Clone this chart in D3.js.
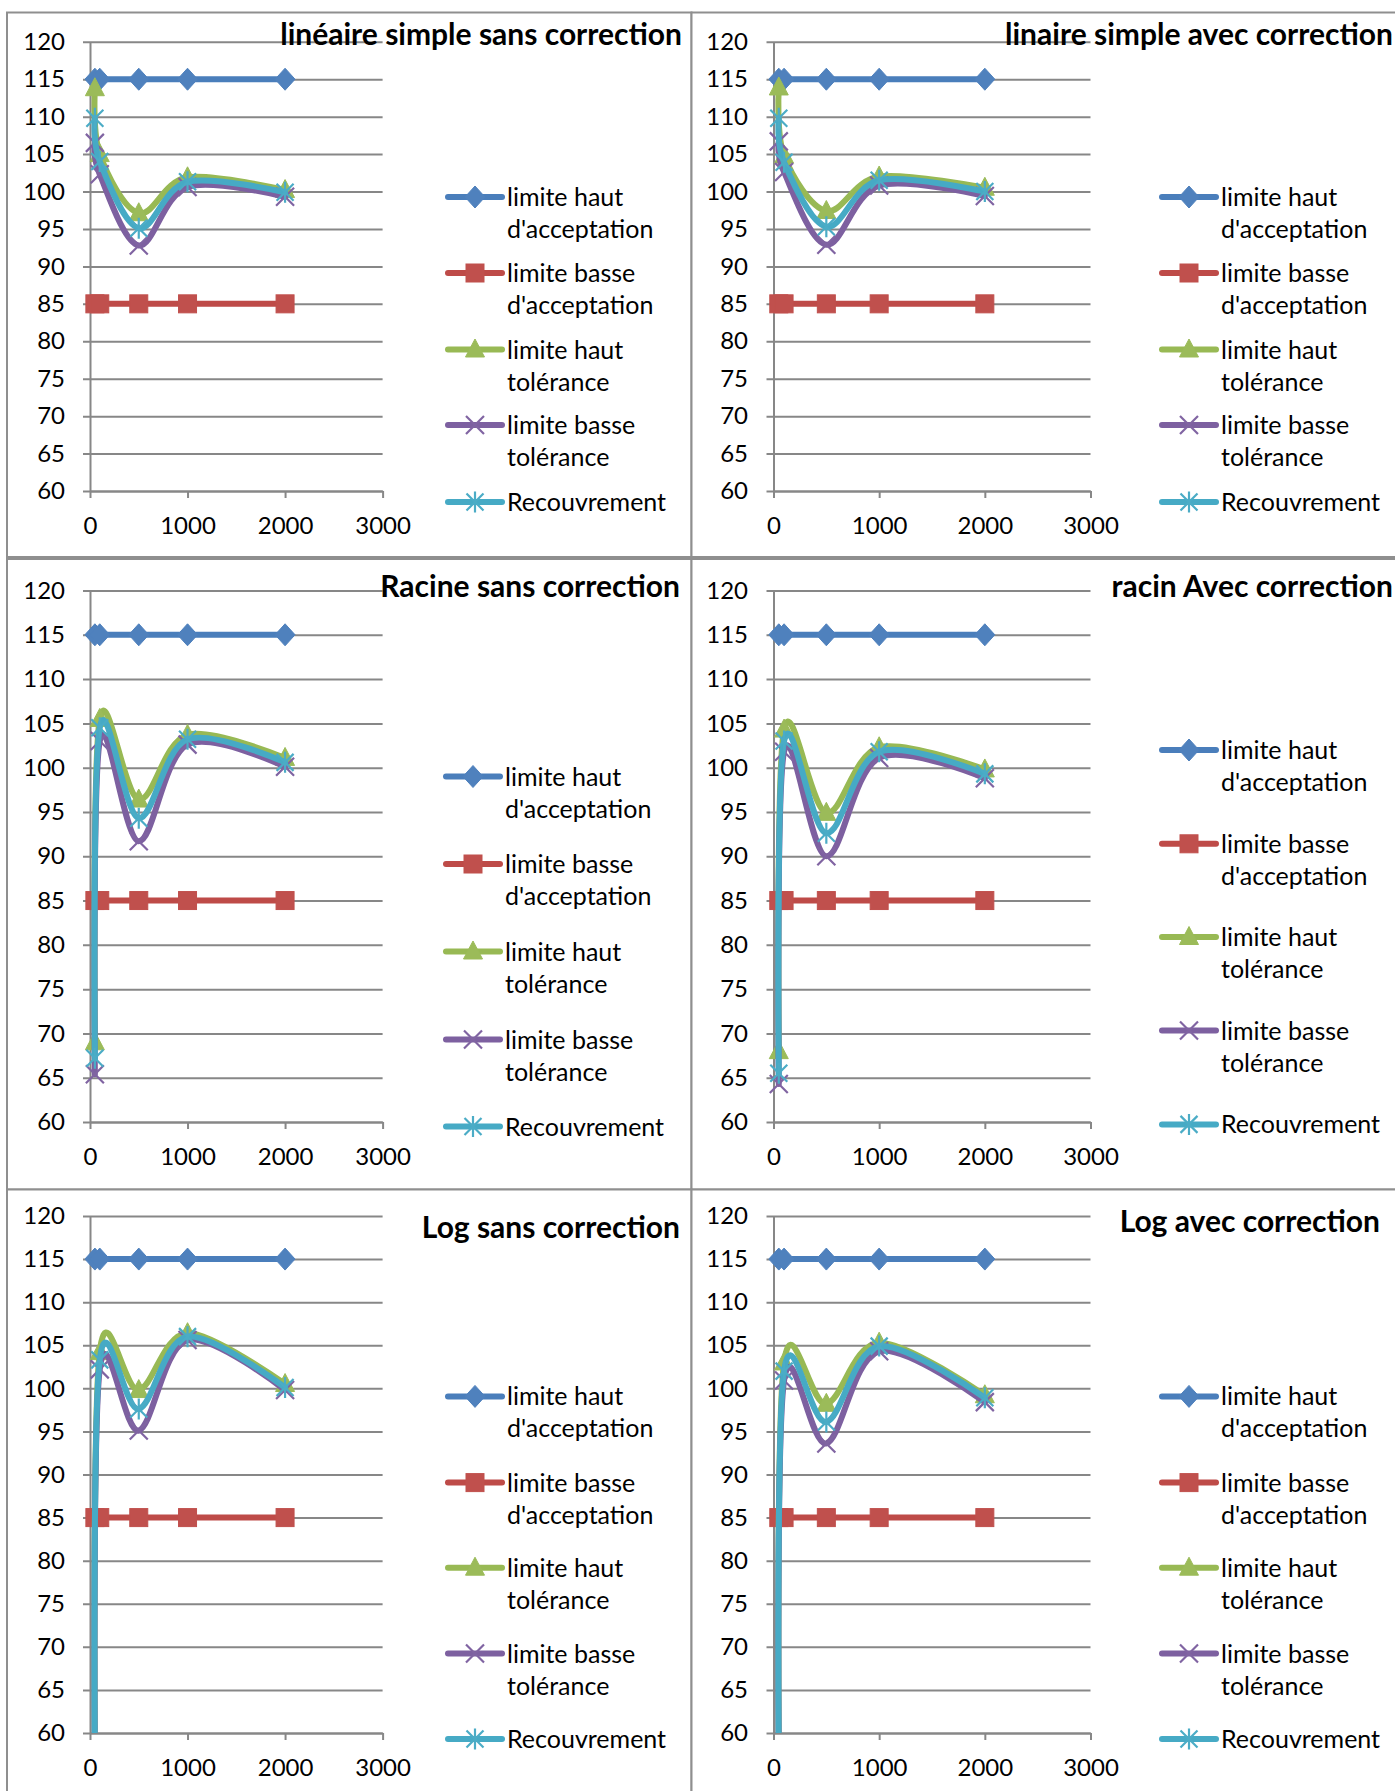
<!DOCTYPE html>
<html>
<head>
<meta charset="utf-8">
<script src="https://cdn.jsdelivr.net/npm/d3@7"></script>
<style>
  body { margin: 0; background: #fff; }
  svg { display: block; }
  text { font-family: Lato, "Open Sans", sans-serif; fill: #000; }
</style>
</head>
<body>
<svg id="chart" width="1395" height="1791"></svg>
<script>
// ---- data ----
const xValues = [50, 100, 500, 1000, 2000];
const yTickValues = [60, 65, 70, 75, 80, 85, 90, 95, 100, 105, 110, 115, 120];
const xTickValues = [0, 1000, 2000, 3000];

const seriesNames = [
  "limite haut d'acceptation",
  "limite basse d'acceptation",
  "limite haut tolérance",
  "limite basse tolérance",
  "Recouvrement"
];
const legendLabels = [
  ["limite haut", "d'acceptation"],
  ["limite basse", "d'acceptation"],
  ["limite haut", "tolérance"],
  ["limite basse", "tolérance"],
  ["Recouvrement"]
];
const panelTitles = [
  "linéaire simple sans correction",
  "linaire simple avec correction",
  "Racine sans correction",
  "racin Avec correction",
  "Log sans correction",
  "Log avec correction"
];

const limiteHautAcceptation  = [115, 115, 115, 115, 115];
const limiteBasseAcceptation = [85, 85, 85, 85, 85];

// linéaire simple sans correction
const linSansHaut   = [113.8, 105.0, 97.1, 101.9, 100.2];
const linSansBasse  = [106.5, 102.3, 92.8, 100.6, 99.3];
const linSansRecouv = [109.8, 104.0, 95.1, 101.3, 99.9];
// linaire simple avec correction
const linAvecHaut   = [113.9, 104.8, 97.4, 102.0, 100.5];
const linAvecBasse  = [106.7, 102.6, 92.9, 100.8, 99.4];
const linAvecRecouv = [109.8, 103.9, 95.3, 101.5, 100.0];
// Racine sans correction
const racSansHaut   = [69.0, 105.5, 96.4, 103.7, 101.1];
const racSansBasse  = [65.4, 103.0, 91.7, 102.6, 100.1];
const racSansRecouv = [67.2, 104.5, 94.3, 103.2, 100.6];
// racin Avec correction
const racAvecHaut   = [68.0, 104.3, 94.9, 102.3, 99.8];
const racAvecBasse  = [64.3, 101.8, 90.0, 101.1, 98.8];
const racAvecRecouv = [65.5, 103.0, 92.6, 101.8, 99.3];
// Log sans correction
const logSansHaut   = [57, 104.2, 99.8, 106.4, 100.5];
const logSansBasse  = [55, 102.2, 95.1, 105.6, 99.8];
const logSansRecouv = [56, 103.3, 97.6, 106.0, 100.1];
// Log avec correction
const logAvecHaut   = [58, 103.0, 98.2, 105.3, 99.2];
const logAvecBasse  = [56, 100.9, 93.6, 104.3, 98.4];
const logAvecRecouv = [57, 102.0, 96.1, 104.9, 98.9];

// ---- styling ----
const lineColors   = ["#4A7EBB", "#BE4B48", "#98B954", "#7D60A0", "#46AAC5"];
const markerColors = ["#4F81BD", "#C0504D", "#9BBB59", "#8064A2", "#4BACC6"];
const markerKinds  = ["diamond", "square", "triangle", "cross", "star"];
const gridColor = "#878787";
const borderColor = "#8f8f8f";
const seriesWidth = 6;

// panel layout (pixel geometry)
const layouts = [
  { box: [7, 12.5, 691.5, 557],  x0: 90,  x1: 382.6, yTop: 41.8,  yBot: 491,
    labelRight: 65,  titleX: 682,  titleY: 45,
    lgX0: 448, lgX1: 502, lgText: 507, lgY: [197, 273, 349.5, 425, 502] },
  { box: [691.5, 12.5, 1420, 557], x0: 773.5, x1: 1090.5, yTop: 41.8, yBot: 491,
    labelRight: 748, titleX: 1393, titleY: 45,
    lgX0: 1162, lgX1: 1216, lgText: 1221, lgY: [197, 273, 349.5, 425, 502] },
  { box: [7, 559, 691.5, 1189.5], x0: 90, x1: 382.6, yTop: 590.5, yBot: 1122,
    labelRight: 65, titleX: 680, titleY: 597,
    lgX0: 446, lgX1: 500, lgText: 505, lgY: [776.5, 864, 951.5, 1039.5, 1126.5] },
  { box: [691.5, 559, 1420, 1189.5], x0: 773.5, x1: 1090.5, yTop: 590.5, yBot: 1122,
    labelRight: 748, titleX: 1393, titleY: 597,
    lgX0: 1162, lgX1: 1216, lgText: 1221, lgY: [750, 843.8, 937, 1030.5, 1124.4] },
  { box: [7, 1189.5, 691.5, 1800], x0: 90, x1: 382.6, yTop: 1216, yBot: 1733,
    labelRight: 65, titleX: 680, titleY: 1238,
    lgX0: 448, lgX1: 502, lgText: 507, lgY: [1396.4, 1482.6, 1567.7, 1653.5, 1739] },
  { box: [691.5, 1189.5, 1420, 1800], x0: 773.5, x1: 1090.5, yTop: 1216, yBot: 1733,
    labelRight: 748, titleX: 1380, titleY: 1232,
    lgX0: 1162, lgX1: 1216, lgText: 1221, lgY: [1396.4, 1482.6, 1567.7, 1653.5, 1739] }
];

const panelSeries = [
  [limiteHautAcceptation, limiteBasseAcceptation, linSansHaut, linSansBasse, linSansRecouv],
  [limiteHautAcceptation, limiteBasseAcceptation, linAvecHaut, linAvecBasse, linAvecRecouv],
  [limiteHautAcceptation, limiteBasseAcceptation, racSansHaut, racSansBasse, racSansRecouv],
  [limiteHautAcceptation, limiteBasseAcceptation, racAvecHaut, racAvecBasse, racAvecRecouv],
  [limiteHautAcceptation, limiteBasseAcceptation, logSansHaut, logSansBasse, logSansRecouv],
  [limiteHautAcceptation, limiteBasseAcceptation, logAvecHaut, logAvecBasse, logAvecRecouv]
];

const svg = d3.select("#chart");

// draws one marker of the given kind centred at (cx, cy)
function drawMarker(g, kind, cx, cy, color) {
  const m = g.append("g").attr("transform", `translate(${cx},${cy})`);
  if (kind === "diamond") {
    m.append("path").attr("d", "M0,-11L10,0L0,11L-10,0Z")
      .attr("fill", color).attr("stroke", color).attr("stroke-width", 1);
  } else if (kind === "square") {
    m.append("rect").attr("x", -9).attr("y", -9).attr("width", 18).attr("height", 18)
      .attr("fill", color).attr("stroke", color).attr("stroke-width", 1);
  } else if (kind === "triangle") {
    m.append("path").attr("d", "M0,-10.5L9.5,7.5L-9.5,7.5Z")
      .attr("fill", color).attr("stroke", color).attr("stroke-width", 1);
  } else if (kind === "cross") {
    m.append("path").attr("d", "M-9,-9L9,9M-9,9L9,-9")
      .attr("fill", "none").attr("stroke", color).attr("stroke-width", 2.2);
  } else if (kind === "star") {
    m.append("path").attr("d", "M-8.5,-8.5L8.5,8.5M-8.5,8.5L8.5,-8.5M0,-10.5L0,10.5")
      .attr("fill", "none").attr("stroke", color).attr("stroke-width", 2.2);
  }
}

layouts.forEach((L, pi) => {
  const g = svg.append("g");
  const [bx0, by0, bx1, by1] = L.box;

  // panel frame
  g.append("rect")
    .attr("x", bx0).attr("y", by0)
    .attr("width", bx1 - bx0).attr("height", by1 - by0)
    .attr("fill", "#fff").attr("stroke", borderColor).attr("stroke-width", 2);

  const x = d3.scaleLinear().domain([0, 3000]).range([L.x0, L.x1]);
  const y = d3.scaleLinear().domain([60, 120]).range([L.yBot, L.yTop]);

  // horizontal gridlines + y labels
  const yAxis = d3.axisLeft(y)
    .tickValues(yTickValues)
    .tickSizeInner(-(L.x1 - L.x0))
    .tickSizeOuter(0)
    .tickPadding(25)
    .tickFormat(d3.format("d"));
  const ya = g.append("g").attr("transform", `translate(${L.x0},0)`).call(yAxis);
  ya.select(".domain").attr("stroke", gridColor).attr("stroke-width", 2);
  ya.selectAll(".tick line").attr("x1", -7).attr("stroke", gridColor).attr("stroke-width", 2);
  ya.selectAll(".tick text")
    .attr("x", L.labelRight - L.x0).attr("text-anchor", "end")
    .attr("font-size", 24).attr("font-family", "Lato, sans-serif").attr("fill", "#000");

  // x axis
  const xAxis = d3.axisBottom(x)
    .tickValues(xTickValues)
    .tickSizeInner(7)
    .tickSizeOuter(0)
    .tickPadding(19)
    .tickFormat(d3.format("d"));
  const xa = g.append("g").attr("transform", `translate(0,${L.yBot})`).call(xAxis);
  xa.select(".domain").attr("stroke", gridColor).attr("stroke-width", 2);
  xa.selectAll(".tick line").attr("stroke", gridColor).attr("stroke-width", 2);
  xa.selectAll(".tick text")
    .attr("font-size", 24).attr("font-family", "Lato, sans-serif").attr("fill", "#000");

  // title (drawn before the data so the series sit above it)
  g.append("text")
    .attr("x", L.titleX).attr("y", L.titleY)
    .attr("text-anchor", "end")
    .attr("font-size", 30).attr("font-weight", "bold")
    .text(panelTitles[pi]);

  // clip for data lines (plot area, with room for markers above)
  const clipId = `plotclip${pi}`;
  g.append("clipPath").attr("id", clipId)
    .append("rect")
    .attr("x", L.x0 - 30).attr("y", L.yTop - 30)
    .attr("width", L.x1 - L.x0 + 60).attr("height", L.yBot - L.yTop + 30);

  const line = d3.line()
    .x(d => x(d[0]))
    .y(d => y(d[1]))
    .curve(d3.curveCardinal.tension(0));

  const plot = g.append("g").attr("clip-path", `url(#${clipId})`);
  panelSeries[pi].forEach((vals, si) => {
    const pts = xValues.map((xv, i) => [xv, vals[i]]);
    plot.append("path")
      .attr("d", line(pts))
      .attr("fill", "none")
      .attr("stroke", lineColors[si])
      .attr("stroke-width", seriesWidth)
      .attr("stroke-linejoin", "round")
      .attr("stroke-linecap", "round");
    pts.filter(p => p[1] >= 60 && p[1] <= 120).forEach(p => {
      drawMarker(plot, markerKinds[si], x(p[0]), y(p[1]), markerColors[si]);
    });
  });

  // legend
  seriesNames.forEach((name, si) => {
    const ly = L.lgY[si];
    const lg = g.append("g").attr("class", "legend-item").attr("data-series", name);
    lg.append("line")
      .attr("x1", L.lgX0).attr("x2", L.lgX1).attr("y1", ly).attr("y2", ly)
      .attr("stroke", lineColors[si]).attr("stroke-width", seriesWidth).attr("stroke-linecap", "round");
    drawMarker(lg, markerKinds[si], (L.lgX0 + L.lgX1) / 2, ly, markerColors[si]);
    const t = lg.append("text")
      .attr("x", L.lgText).attr("y", ly + 9)
      .attr("font-size", 25);
    legendLabels[si].forEach((part, k) => {
      t.append("tspan").attr("x", L.lgText).attr("dy", k === 0 ? 0 : 32).text(part);
    });
  });
});
</script>
</body>
</html>
